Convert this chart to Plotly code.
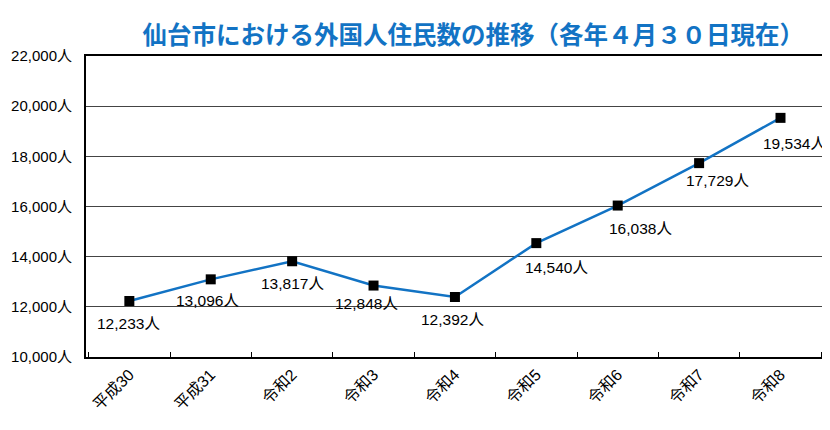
import plotly.graph_objects as go

# 年度と外国人住民数
years = ['平成30', '平成31', '令和2', '令和3', '令和4', '令和5', '令和6', '令和7', '令和8']
residents = [12233, 13096, 13817, 12848, 12392, 14540, 16038, 17729, 19534]
label_dx = [-1, -3, 0, -7, -2, 20, 23, 18, 14]
label_dy = [23, 21, 22, 18, 22, 24, 23, 17, 26]

y_ticks = list(range(10000, 22001, 2000))
y_text = ['{:,}人'.format(v) for v in y_ticks]

font_num = 'Liberation Sans, Noto Sans CJK JP'
font_jp = 'Noto Sans CJK JP'

fig = go.Figure()
fig.add_trace(go.Scatter(
    x=years,
    y=residents,
    mode='lines+markers',
    line=dict(color='#1273C4', width=2.5),
    marker=dict(symbol='square', size=10, color='black'),
    hoverinfo='x+y'
))

for i, (yr, v) in enumerate(zip(years, residents)):
    fig.add_annotation(
        x=yr, y=v,
        text='{:,}人'.format(v),
        showarrow=False,
        xshift=label_dx[i],
        yshift=-label_dy[i],
        font=dict(family=font_num, size=15.5, color='black')
    )

# page body has an 8px margin, so the figure is shifted by 8px
fig.update_layout(
    width=822, height=422,
    margin=dict(l=78, r=2, t=48, b=73),
    paper_bgcolor='white',
    plot_bgcolor='white',
    showlegend=False,
    title=dict(
        text='<b>仙台市における外国人住民数の推移（各年４月３０日現在）</b>',
        x=0.566, xanchor='center',
        y=0.936, yanchor='middle',
        font=dict(family=font_jp, size=24.5, color='#1273C4')
    ),
    xaxis=dict(
        automargin=False,
        showline=True, linecolor='black', linewidth=2, mirror=True,
        ticks='inside', tickson='boundaries', ticklen=5, tickcolor='black',
        tickangle=-45,
        showgrid=False,
        tickfont=dict(family=font_num, size=16, color='black')
    ),
    yaxis=dict(
        automargin=False,
        range=[10000, 22000],
        tickvals=y_ticks, ticktext=y_text,
        showline=True, linecolor='black', linewidth=2, mirror=True,
        showgrid=True, gridcolor='#444444', gridwidth=1,
        zeroline=False,
        ticks='', ticklabelstandoff=9,
        tickfont=dict(family=font_num, size=15, color='black')
    )
)

fig.write_html('out.html')
